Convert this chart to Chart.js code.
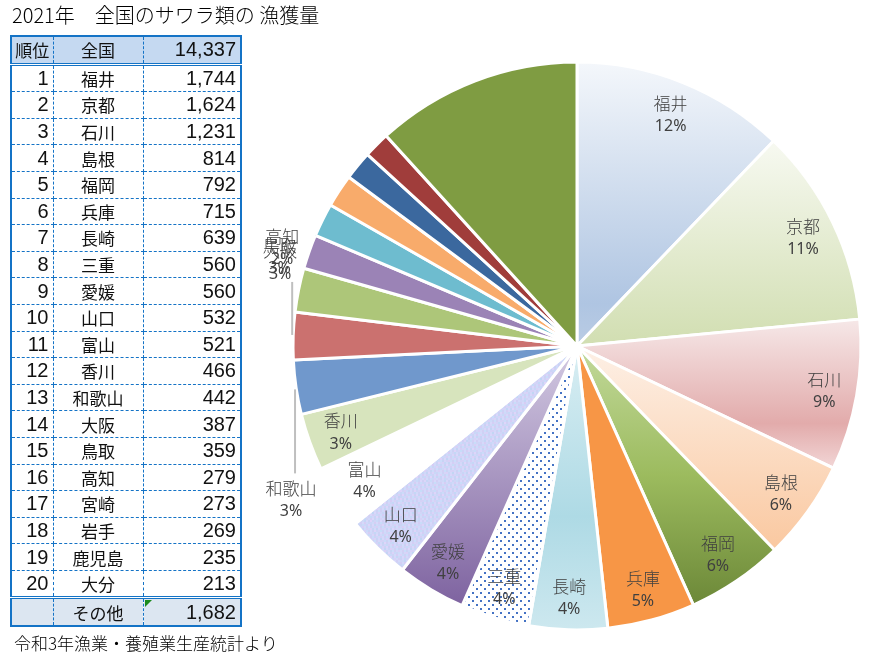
<!DOCTYPE html>
<html><head><meta charset="utf-8">
<script src="https://cdn.jsdelivr.net/npm/chart.js@4"></script>
<style>
html,body{margin:0;padding:0;background:#fff;}
body{width:872px;height:667px;position:relative;overflow:hidden;font-family:"Noto Sans CJK JP",sans-serif;}
#c{position:absolute;left:0;top:0;}
#title{position:absolute;left:12px;top:2px;font-size:20px;font-weight:300;line-height:26px;color:#000;white-space:nowrap;}
#foot{position:absolute;left:14px;top:631px;font-size:17px;font-weight:300;line-height:24px;color:#000;white-space:nowrap;}
#tbl{position:absolute;left:10px;top:35px;border-collapse:collapse;border:2px solid #1473C6;table-layout:fixed;z-index:2;}
#tbl td{border:1px dashed #1473C6;padding:0 4px;height:25.6px;line-height:25px;font-size:17px;white-space:nowrap;color:#111;}
#tbl td.n{font-family:"Liberation Sans",Arial,sans-serif;font-size:20px;text-align:right;}
#tbl td.p{text-align:center;}
#tbl tr.hd td{background:#C5D9F1;border-bottom:3px double #1473C6;}
#tbl tr.ft td{background:#DCE6F1;border-top:3px double #1473C6;}
#tbl td.tri{position:relative;}
#tbl td.tri::before{content:"";position:absolute;left:1px;top:1px;border-top:7px solid #1B8A1B;border-right:7px solid transparent;}
</style></head>
<body>
<canvas id="c" width="872" height="667"></canvas>
<div id="title">2021年　全国のサワラ類の 漁獲量</div>
<table id="tbl"><colgroup><col style="width:42px"><col style="width:90px"><col style="width:98px"></colgroup><tbody id="tb"></tbody></table>
<div id="foot">令和3年漁業・養殖業生産統計より</div>
<script>
// ---- data ----
const categories = ['福井','京都','石川','島根','福岡','兵庫','長崎','三重','愛媛','山口','富山','香川','和歌山','大阪','鳥取','高知','宮崎','岩手','鹿児島','大分','その他'];
const catches = [1744,1624,1231,814,792,715,639,560,560,532,521,466,442,387,359,279,273,269,235,213,1682];
const ranks = [1,2,3,4,5,6,7,8,9,10,11,12,13,14,15,16,17,18,19,20,''];
const nationalLabel = '全国';
const nationalTotal = 14337;
const headerRank = '順位';

// ---- table ----
const fmt = v => v.toLocaleString('en-US');
const tb = document.getElementById('tb');
let html = `<tr class="hd"><td class="p" style="padding:0 2px">${headerRank}</td><td class="p">${nationalLabel}</td><td class="n">${fmt(nationalTotal)}</td></tr>`;
categories.forEach((c,i)=>{
  const last = i === categories.length-1;
  html += `<tr class="${last?'ft':''}"><td class="n">${ranks[i]}</td><td class="p">${c}</td><td class="n${last?' tri':''}">${fmt(catches[i])}</td></tr>`;
});
tb.innerHTML = html;

// ---- styles for slices ----
function makeDots(){
  const p=document.createElement('canvas');p.width=8;p.height=8;const g=p.getContext('2d');
  g.fillStyle='#fff';g.fillRect(0,0,8,8);g.fillStyle='#4472C4';
  g.fillRect(0,0,2,2);g.fillRect(4,4,2,2);return p;
}
function makeTexture(){
  const p=document.createElement('canvas');p.width=40;p.height=40;const g=p.getContext('2d');
  for(let i=0;i<20;i++)for(let j=0;j<20;j++){
    const t=(Math.sin(i*0.9+j*2.3)*Math.cos(i*1.9-j*0.7)+1)/2;
    const u=(Math.sin(i*2.7-j*1.1)+1)/2;
    const r=Math.round(192+t*24+u*8), gg=Math.round(214-t*10+u*8), b=Math.round(244+u*6);
    g.fillStyle=`rgb(${r},${gg},${Math.min(b,252)})`;g.fillRect(i*2,j*2,2,2);
  }
  return p;
}
const sliceStyle = [
  {g:[[0,'#F4F7FB'],[0.85,'#AFC5E2'],[1,'#BACCE4']]},
  {g:[[0,'#F7F9F1'],[1,'#D1DEB1']]},
  {g:[[0,'#F6E8E8'],[0.7,'#E2ABAB'],[1,'#F2D6D6']]},
  {g:[[0,'#FDF0E6'],[1,'#FAC8A0']]},
  {g:[[0,'#C2D99B'],[0.5,'#9CBB5E'],[1,'#6C8838']]},
  {c:'#F79646'},
  {g:[[0,'#D9EEF3'],[0.6,'#AEDAE5'],[1,'#CDE8EF']]},
  {pat:'dots'},
  {g:[[0,'#D3CAE2'],[1,'#7E63A0']]},
  {pat:'tex'},
  {c:'#FFFFFF'},
  {c:'#D7E4BD'},
  {c:'#7098CC'},
  {c:'#CB716F'},
  {c:'#ADC679'},
  {c:'#9B83B6'},
  {c:'#6EBCCF'},
  {c:'#F8AB6B'},
  {c:'#3B689E'},
  {c:'#A03D3B'},
  {c:'#7F9C42'}
];
const R = 284;
const patterns = {};
function sliceFill(ctx){
  if(ctx.type!=='data') return '#fff';
  const i=ctx.dataIndex, st=sliceStyle[i];
  if(st.c) return st.c;
  const chart=ctx.chart, c2=chart.ctx;
  if(st.pat){
    if(!patterns[st.pat]) patterns[st.pat]=c2.createPattern(st.pat==='dots'?makeDots():makeTexture(),'repeat');
    return patterns[st.pat];
  }
  const a=chart.chartArea; if(!a) return st.g[0][1];
  const cx=(a.left+a.right)/2, cy=(a.top+a.bottom)/2;
  const data=ctx.dataset.data; const tot=data.reduce((s,v)=>s+v,0);
  let cum=0; for(let k=0;k<i;k++) cum+=data[k];
  const s=-Math.PI/2+2*Math.PI*cum/tot, e=s+2*Math.PI*data[i]/tot;
  let ys=[cy, cy+R*Math.sin(s), cy+R*Math.sin(e)];
  for(let n=-1;n<=2;n++){
    const top=-Math.PI/2+2*Math.PI*n, bot=Math.PI/2+2*Math.PI*n;
    if(top>s&&top<e) ys.push(cy-R);
    if(bot>s&&bot<e) ys.push(cy+R);
  }
  const y0=Math.min(...ys), y1=Math.max(...ys);
  const gr=c2.createLinearGradient(0,y0,0,y1);
  st.g.forEach(([o,col])=>gr.addColorStop(o,col));
  return gr;
}

// label placement: 'in' inside at 0.884R, objects = outside with leader
const labelPlace = ['in','in','in','in','in','in','in','in','in','in','in','in',
  {dx:-5,dy:101,line:[2,86]},
  {dx:-13,dy:-85,line:[-1,-54]},
  {dx:-19,dy:-44},
  {dx:-27,dy:-15},
  null,null,null,null,null];

const labelPlugin = {
  id:'sliceLabels',
  afterDatasetsDraw(chart){
    const g=chart.ctx, meta=chart.getDatasetMeta(0);
    const data=chart.data.datasets[0].data, tot=data.reduce((s,v)=>s+v,0);
    g.save();
    g.textAlign='center';g.textBaseline='middle';
    meta.data.forEach((arc,i)=>{
      const lp=labelPlace[i]; if(!lp) return;
      const p=arc.getProps(['x','y','startAngle','endAngle','outerRadius']);
      const mid=(p.startAngle+p.endAngle)/2;
      const name=chart.data.labels[i], pct=Math.round(data[i]/tot*100)+'%';
      let lx,ly;
      if(lp==='in'){
        const r=p.outerRadius*0.884;
        lx=p.x+r*Math.cos(mid); ly=p.y+r*Math.sin(mid)+1;
      } else {
        const ex=p.x+p.outerRadius*Math.cos(mid), ey=p.y+p.outerRadius*Math.sin(mid);
        if(lp.line){
          g.strokeStyle='#BFBFBF';g.lineWidth=2;g.beginPath();
          g.moveTo(ex-1,ey+lp.line[0]);g.lineTo(ex-1,ey+lp.line[1]);g.stroke();
        }
        lx=ex+lp.dx; ly=ey+lp.dy+11;
      }
      g.fillStyle='#404040';
      g.font='300 17px "Noto Sans CJK JP"';
      g.fillText(name,lx,ly-11);
      g.font='16px "Noto Sans"';
      g.fillText(pct,lx,ly+12);
    });
    g.restore();
  }
};

new Chart(document.getElementById('c'),{
  type:'pie',
  data:{labels:categories,datasets:[{data:catches,backgroundColor:sliceFill,borderColor:'#FFFFFF',borderWidth:3,radius:R}]},
  options:{
    responsive:false,animation:false,events:[],
    layout:{padding:{left:282,top:25,right:0,bottom:0}},
    plugins:{legend:{display:false},tooltip:{enabled:false},title:{display:false}}
  },
  plugins:[labelPlugin]
});
</script>
</body></html>
